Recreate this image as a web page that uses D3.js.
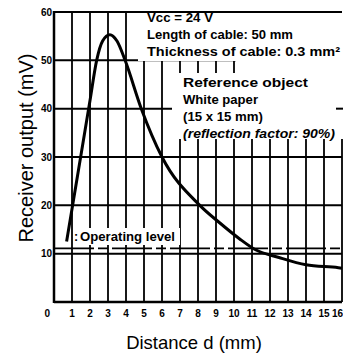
<!DOCTYPE html>
<html><head><meta charset="utf-8">
<script src="https://cdn.jsdelivr.net/npm/d3@7"></script>
<style>
html,body{margin:0;padding:0;background:#fff;}
svg{display:block;font-family:"Liberation Sans",Arial,sans-serif;}
</style></head>
<body><svg id="c" width="343" height="354"></svg>
<script>
// Data
const curveX = [0.7, 1.15, 1.6, 2.0, 2.37, 2.7, 3.1, 3.5, 3.95, 4.85, 6.0, 8.1, 9.2, 10.3, 11.2, 12.5, 14.0, 15.8, 16.0];
const curveY = [12.5, 22.6, 32.7, 41.7, 50, 54, 55.3, 54, 50, 40, 30, 20, 16.4, 13.1, 10.8, 9.2, 7.7, 7.1, 7.0];
const xTicks = [0,1,2,3,4,5,6,7,8,9,10,11,12,13,14,15,16];
const xTickLabels = ["0","1","2","3","4","5","6","7","8","9","10","11","12","13","14","15","16"];
const yTicks = [10,20,30,40,50,60];
const operatingLevel = [11.1];
const infoLines = ["Vcc = 24 V","Length of cable: 50 mm","Thickness of cable: 0.3 mm²"];
const refLines = ["Reference object","White paper","(15 x 15 mm)","(reflection factor: 90%)"];

const svg = d3.select("#c");
const x = d3.scaleLinear().domain([0,16]).range([54,342]);
const y = d3.scaleLinear().domain([0,60]).range([302,12]);

const g = svg.append("g");
// vertical grid
g.selectAll("line.v").data(xTicks.filter(d=>d>0)).join("line")
  .attr("x1",d=>x(d)).attr("x2",d=>x(d)).attr("y1",y(60)).attr("y2",y(0))
  .attr("stroke","#000").attr("stroke-width",1.8);
// horizontal grid
g.selectAll("line.h").data(yTicks.filter(d=>d<60)).join("line")
  .attr("x1",x(0)).attr("x2",x(16)).attr("y1",d=>y(d)).attr("y2",d=>y(d))
  .attr("stroke","#000").attr("stroke-width",2);
// operating level line
g.selectAll("line.op").data(operatingLevel).join("line")
  .attr("x1",x(0)).attr("x2",x(16)).attr("y1",d=>y(d)).attr("y2",d=>y(d))
  .attr("stroke","#000").attr("stroke-width",1.8).attr("stroke-dasharray","40,4,10,4");

// white masks behind annotations
const masks = [[138,11,205,50],[172,73,171,66],[236,61,107,12],[76,228,104,17]];
g.selectAll("rect.m").data(masks).join("rect")
  .attr("x",d=>d[0]).attr("y",d=>d[1]).attr("width",d=>d[2]).attr("height",d=>d[3]).attr("fill","#fff");
// small right tick at 40
g.append("line").attr("x1",336).attr("x2",343).attr("y1",y(40)).attr("y2",y(40)).attr("stroke","#000").attr("stroke-width",2);

// frame
g.append("line").attr("x1",x(0)).attr("x2",x(16)).attr("y1",y(60)).attr("y2",y(60)).attr("stroke","#000").attr("stroke-width",2);
g.append("line").attr("x1",x(0)).attr("x2",x(0)).attr("y1",y(60)-1).attr("y2",y(0)+1).attr("stroke","#000").attr("stroke-width",2.5);
g.append("line").attr("x1",x(0)).attr("x2",x(16)).attr("y1",y(0)).attr("y2",y(0)).attr("stroke","#000").attr("stroke-width",2.5);

// curve
const pts = curveX.map((v,i)=>[v,curveY[i]]);
g.append("path").datum(pts)
  .attr("d",d3.line().x(d=>x(d[0])).y(d=>y(d[1])).curve(d3.curveMonotoneX))
  .attr("fill","none").attr("stroke","#000").attr("stroke-width",3).attr("stroke-linejoin","round");

// tick labels
svg.selectAll("text.xt").data(xTicks).join("text")
  .attr("x",(d,i)=> i===0 ? x(d)-4 : (i===xTicks.length-1 ? 343 : x(d)))
  .attr("y",317)
  .attr("text-anchor",(d,i)=> i===0 ? "end" : (i===xTicks.length-1 ? "end" : "middle"))
  .attr("font-size",10).attr("font-weight","bold")
  .text((d,i)=>xTickLabels[i]);
svg.selectAll("text.yt").data(yTicks).join("text")
  .attr("x",52).attr("y",d=>y(d)).attr("dy","0.35em").attr("text-anchor","end")
  .attr("font-size",10).attr("font-weight","bold").text(d=>d);

// annotations
const infoW = [66,146,193];
svg.selectAll("text.info").data(infoLines).join("text")
  .attr("x",147).attr("y",(d,i)=>22+i*17).attr("font-size",12.5).attr("font-weight","bold")
  .attr("textLength",(d,i)=>infoW[i]).attr("lengthAdjust","spacingAndGlyphs").text(d=>d);
const refW = [125,75,80,152];
svg.selectAll("text.ref").data(refLines).join("text")
  .attr("x",183).attr("y",(d,i)=>87+i*17).attr("font-size",12.5).attr("font-weight","bold")
  .attr("font-style",(d,i)=>i===3?"italic":"normal")
  .attr("textLength",(d,i)=>refW[i]).attr("lengthAdjust","spacingAndGlyphs").text(d=>d);
svg.append("text").attr("x",74).attr("y",241).attr("font-size",12.5).attr("font-weight","bold").text(":");
svg.append("text").attr("x",80).attr("y",241).attr("font-size",12.5).attr("font-weight","bold")
  .attr("textLength",95).attr("lengthAdjust","spacingAndGlyphs").text("Operating level");

// axis titles
svg.append("text").attr("x",194).attr("y",349).attr("text-anchor","middle").attr("font-size",18.5).text("Distance d (mm)");
svg.append("text").attr("transform","translate(33,148) rotate(-90)").attr("text-anchor","middle").attr("font-size",20).text("Receiver output (mV)");
</script></body></html>
